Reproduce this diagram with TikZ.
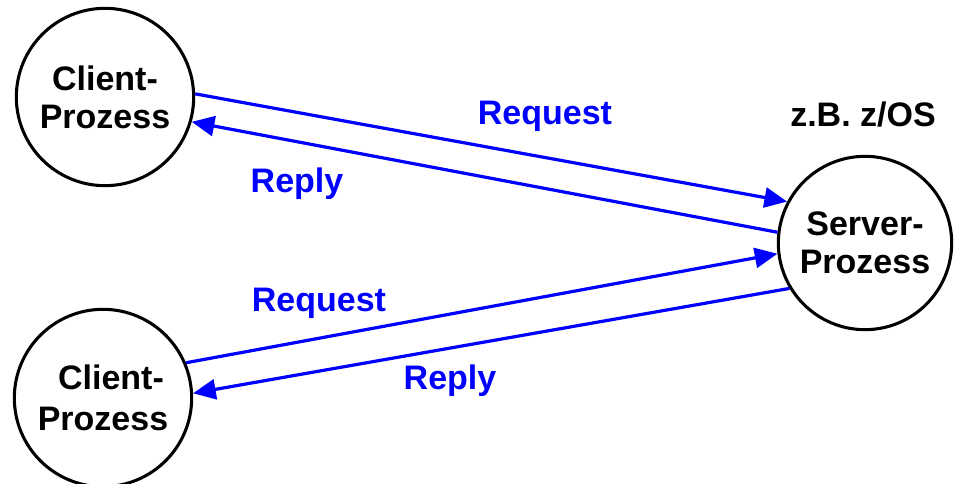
\documentclass[tikz,border=0pt]{standalone}
\usepackage{fontspec}
\setmainfont{Liberation Sans}
\usetikzlibrary{arrows.meta, positioning}

\begin{document}
\begin{tikzpicture}[x=0.75pt, y=-0.75pt,
    proc/.style={draw, circle, line width=2.3pt, minimum size=133pt, inner sep=0pt,
      align=center, font=\fontsize{25.5}{28.5}\selectfont\bfseries},
    msg/.style={draw=blue, line width=2.4pt, -{Triangle[length=17pt,width=15pt]}},
    lbl/.style={anchor=base, text=blue, font=\fontsize{25.5}{28.5}\selectfont\bfseries}]
        % Frame
        \useasboundingbox (0,0) rectangle (954,484);

        % Processes
        \node[proc] (c1) at (105,97) {Client-\\Prozess};
        \node[proc] (c2) at (103,398) {\hspace*{12pt}Client-\\[2pt]Prozess};
        \node[proc, minimum size=130pt] (srv) at (865,243) {Server-\\Prozess};
        \node[anchor=base, font=\fontsize{25.5}{28.5}\selectfont\bfseries] (os) at (863,127) {z.B. z/OS};

        % Messages
        \draw[msg] (c1.2.5) -- (srv.152.5);
        \draw[msg] (srv.173) -- (c1.-16);
        \draw[msg] (c2.23.7) -- (srv.187);
        \draw[msg] (srv.211.7) -- (c2.3);

        % Labels
        \node[lbl] (req1) at (545,125) {Request};
        \node[lbl] (rep1) at (297,193) {Reply};
        \node[lbl] (req2) at (319,312) {Request};
        \node[lbl] (rep2) at (450,390) {Reply};
\end{tikzpicture}
\end{document}
